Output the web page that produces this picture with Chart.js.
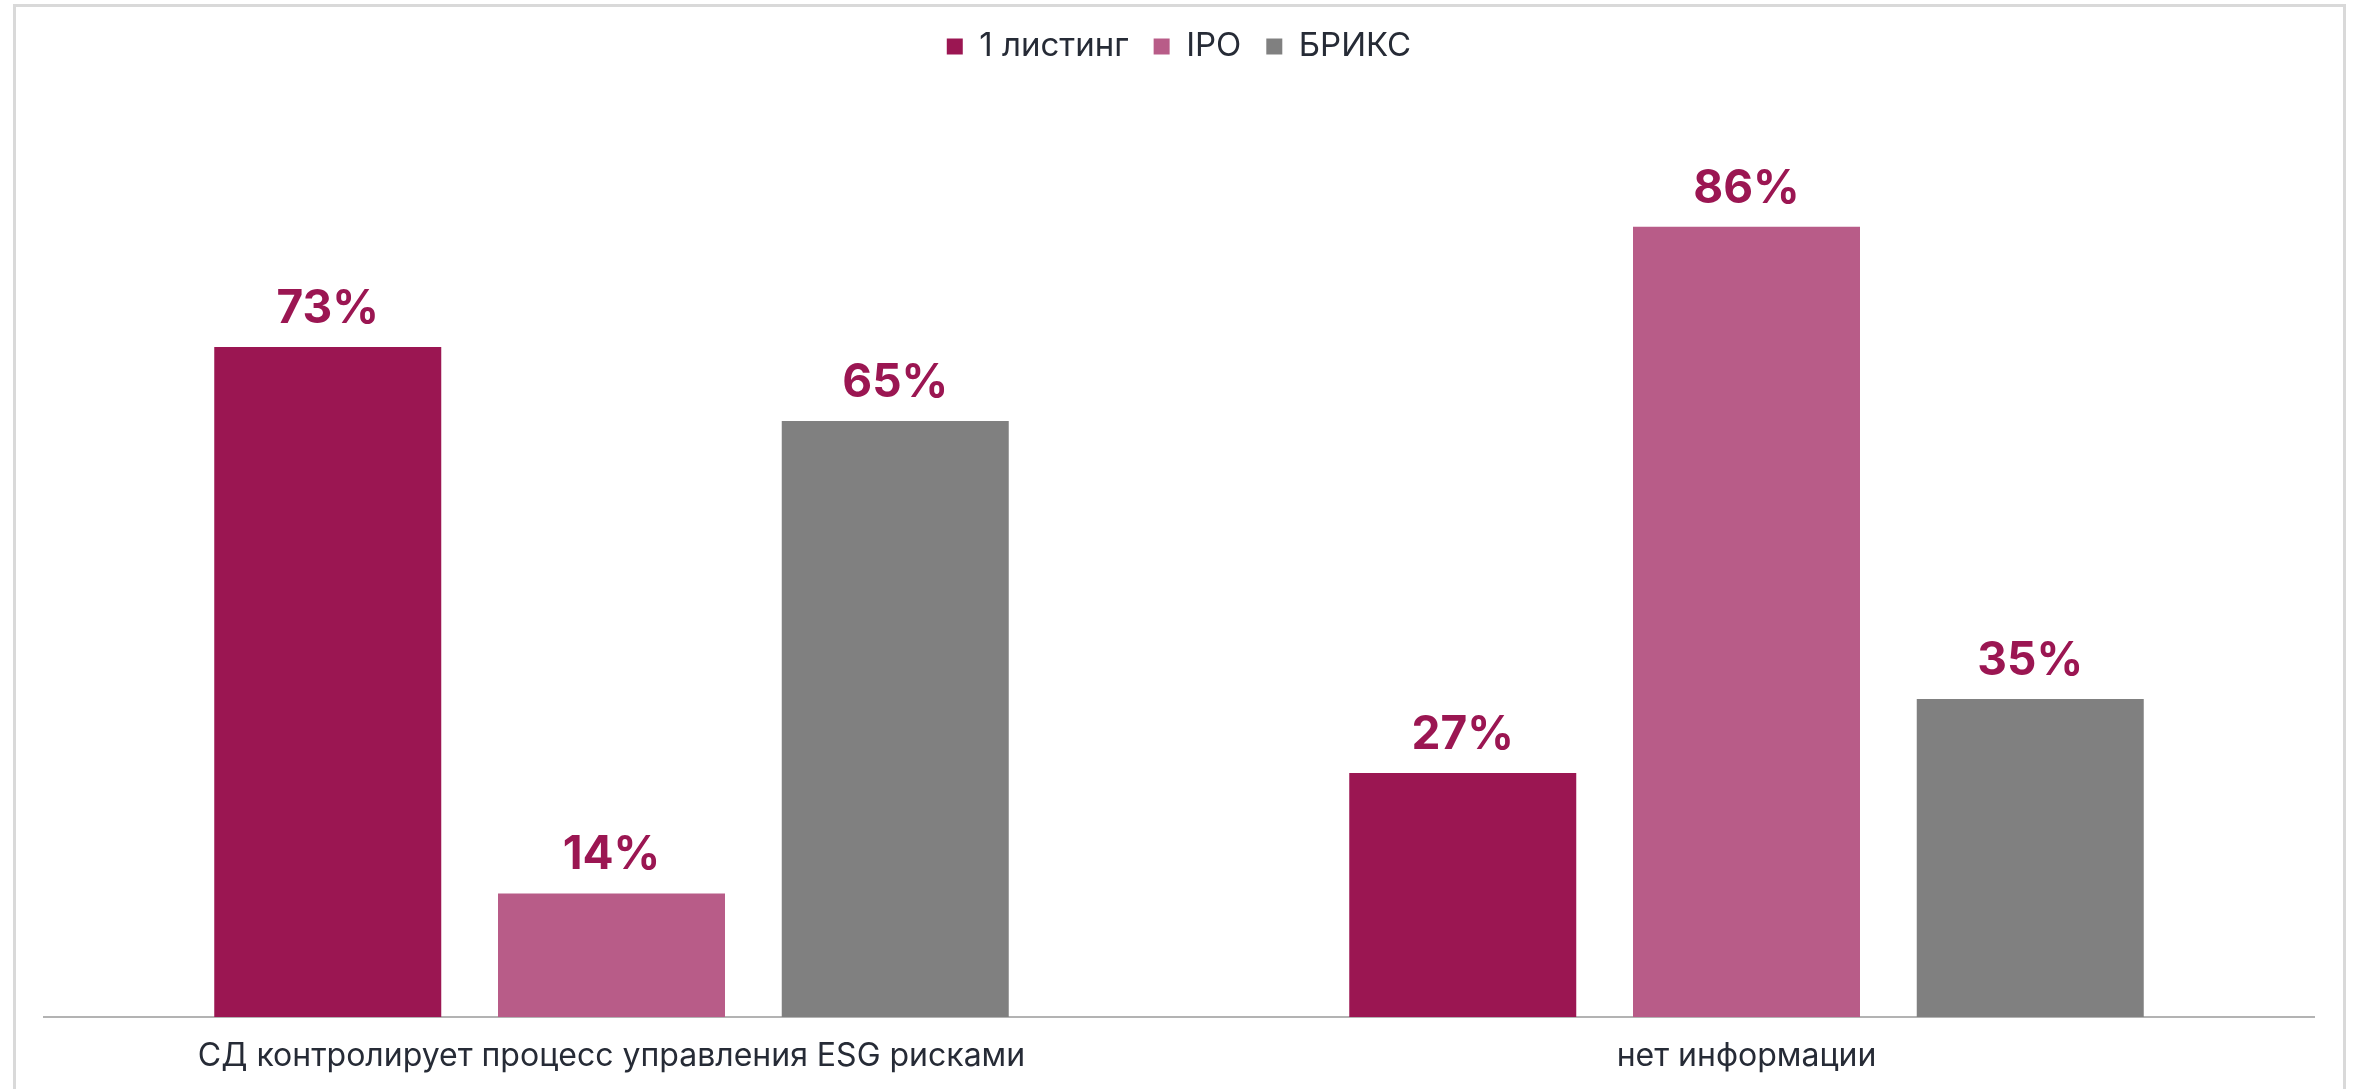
<!DOCTYPE html>
<html lang="ru">
<head>
<meta charset="utf-8">
<title>СД и ESG риски</title>
<script src="https://cdn.jsdelivr.net/npm/chart.js@4"></script>
<style>
  html, body { margin: 0; padding: 0; background: #fff; overflow: hidden; }
  #frame {
    position: absolute; left: 13px; top: 4px; width: 2333px; height: 1200px;
    box-sizing: border-box; border: 3px solid #d9d9d9; border-bottom: none;
  }
  #wrap { position: absolute; left: 0; top: 0; width: 2357px; height: 1089px; }
</style>
</head>
<body>
<div id="frame"></div>
<div id="wrap"><canvas id="my-chart"></canvas></div>
<script>
'use strict';

let categories = ['СД контролирует процесс управления ESG рисками', 'нет информации'];
let seriesNames = ['1 листинг', 'IPO', 'БРИКС'];
let listingValues = [73, 27];
let ipoValues = [14, 86];
let bricsValues = [65, 35];
let seriesColors = ['#9b1652', '#b85c88', '#808080'];

let canvasElem = document.getElementById('my-chart');

// extra room under the legend
let legendGap = {
  id: 'legendGap',
  beforeInit(chart) {
    let fit = chart.legend.fit;
    chart.legend.fit = function () {
      fit.bind(chart.legend)();
      this.height += 24;
    };
  }
};

// value labels above the bars
let barLabels = {
  id: 'barLabels',
  afterDatasetsDraw(chart) {
    let ctx = chart.ctx;
    ctx.save();
    ctx.font = 'bold 46px Inter';
    ctx.fillStyle = '#9b1652';
    ctx.textAlign = 'center';
    ctx.textBaseline = 'alphabetic';
    chart.data.datasets.forEach((ds, i) => {
      let meta = chart.getDatasetMeta(i);
      meta.data.forEach((bar, j) => {
        ctx.fillText(ds.data[j] + '%', bar.x, bar.y - 24);
      });
    });
    ctx.restore();
  }
};

function renderChart() {
  let allValues = [listingValues, ipoValues, bricsValues];
  let datasets = [];
  for (let i = 0; i < seriesNames.length; i++) {
    datasets.push({
      label: seriesNames[i],
      data: allValues[i],
      backgroundColor: seriesColors[i],
      borderWidth: 0,
      barPercentage: 0.8,
      categoryPercentage: 0.75
    });
  }

  let chartObj = {
    type: 'bar',
    data: {
      labels: categories,
      datasets: datasets
    },
    options: {
      responsive: true,
      maintainAspectRatio: false,
      animation: false,
      layout: {
        padding: { top: 5, left: 44, right: 43, bottom: 0 }
      },
      plugins: {
        tooltip: { enabled: false },
        legend: {
          position: 'top',
          labels: {
            boxWidth: 16,
            boxHeight: 16,
            padding: 25,
            color: '#262b36',
            font: { family: 'Inter', size: 33 }
          }
        }
      },
      scales: {
        x: {
          grid: { display: false, drawTicks: false },
          border: { display: true, color: '#b3b3b3', width: 2 },
          ticks: {
            color: '#262b36',
            padding: 20,
            maxRotation: 0,
            font: { family: 'Inter', size: 32 }
          },
          afterFit(scale) { scale.height = 72; }
        },
        y: {
          display: false,
          min: 0.65,
          max: 100
        }
      }
    },
    plugins: [legendGap, barLabels]
  };

  new Chart(canvasElem, chartObj);
}

renderChart();
</script>
</body>
</html>
